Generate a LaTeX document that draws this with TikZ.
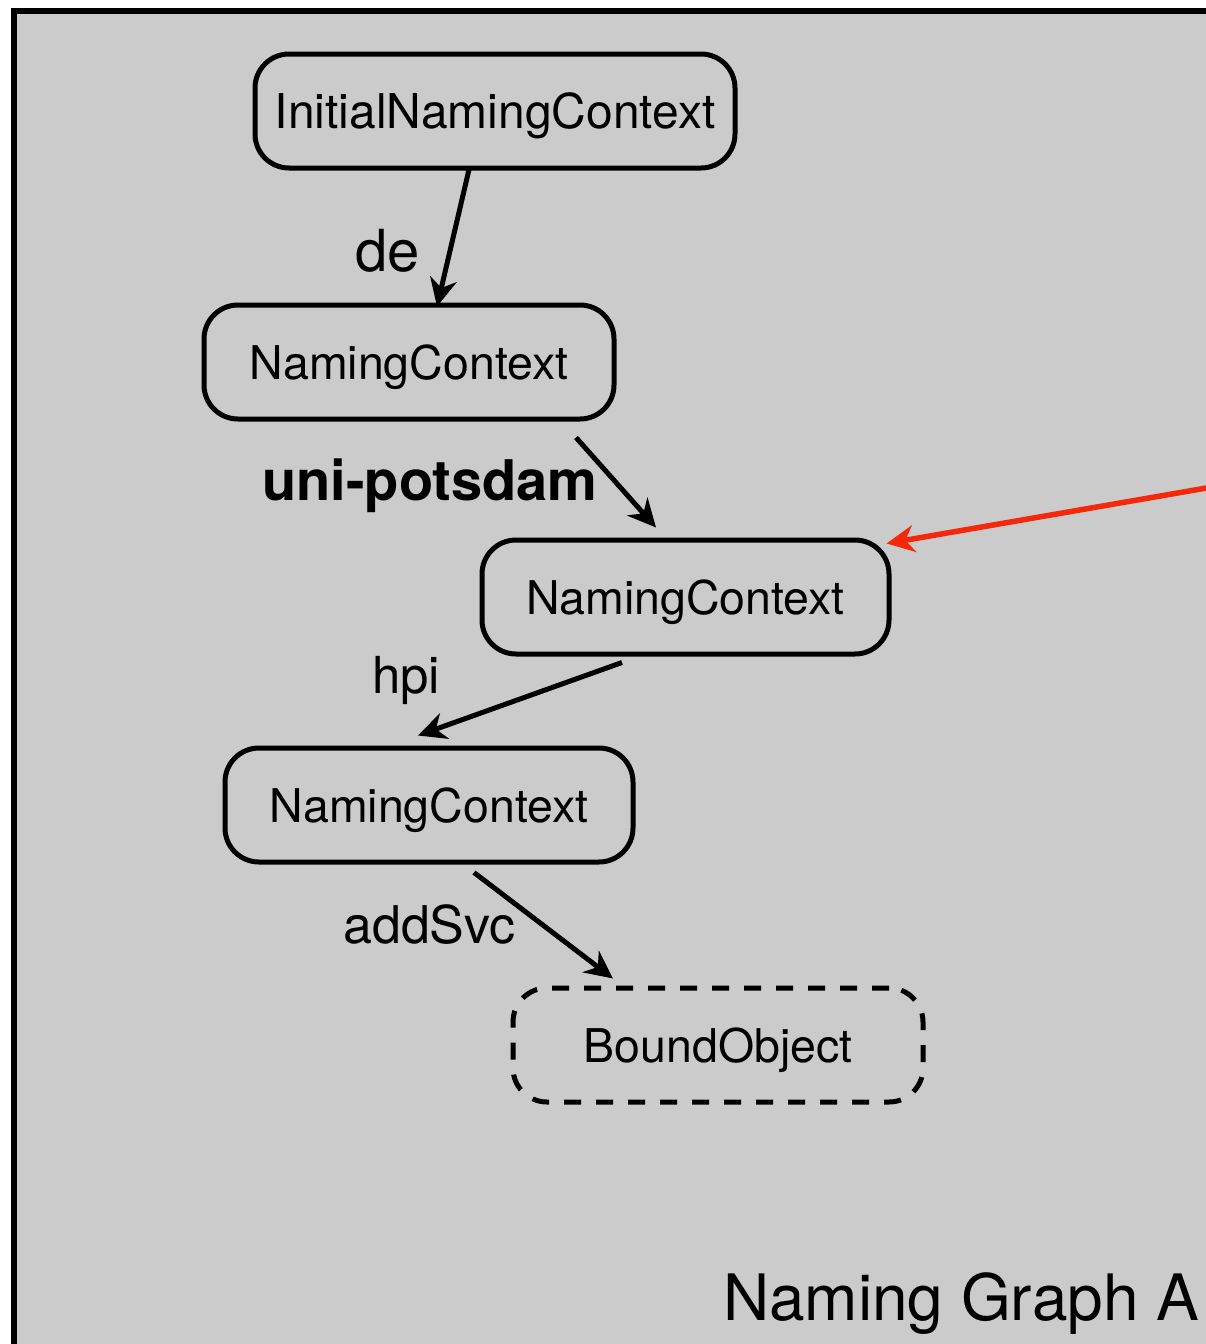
\documentclass[tikz,border=0pt]{standalone}
\usepackage{fontspec}
\setmainfont{TeX Gyre Heros}
\usetikzlibrary{arrows.meta}
\definecolor{bg}{RGB}{203,203,203}
\definecolor{redarr}{RGB}{244,40,10}
\tikzset{
  ctx/.style={draw=black, line width=5pt, rounded corners=34pt, minimum height=114pt, inner sep=0pt, text depth=0pt},
  bound/.style={ctx, dash pattern=on 17pt off 15pt},
  arr/.style={draw=black, line width=5pt, -{Stealth[length=28pt,width=27pt,inset=9pt]}},
  redline/.style={draw=redarr, line width=5.5pt, -{Stealth[length=28pt,width=27pt,inset=9pt]}},
  lbl/.style={inner sep=0pt, anchor=base west},
}
\begin{document}
\begin{tikzpicture}[x=1pt,y=-1pt]
\useasboundingbox (0,0) rectangle (1206,1344);
\clip (0,0) rectangle (1206,1344);
\fill[white] (0,0) rectangle (1206,1344);
\draw[line width=6pt, fill=bg] (13.5,10.5) rectangle (1240,1380);

\node[ctx, minimum width=480pt, font=\fontsize{48}{58}\selectfont] (n1) at (495,111) {InitialNamingContext};
\node[ctx, minimum width=410pt, font=\fontsize{46.5}{56}\selectfont] (n2) at (409,362) {NamingContext};
\node[ctx, minimum width=407pt, font=\fontsize{46.5}{56}\selectfont] (n3) at (685.5,597) {NamingContext};
\node[ctx, minimum width=408pt, font=\fontsize{46.5}{56}\selectfont] (n4) at (429,805) {NamingContext};
\node[bound, minimum width=410pt, font=\fontsize{46.5}{56}\selectfont] (n5) at (718,1045) {BoundObject};

\node[lbl, font=\fontsize{58}{68}\selectfont] (lde) at (355,271) {de};
\node[lbl, font=\fontsize{56}{66}\bfseries\selectfont] (lup) at (262,500) {uni-potsdam};
\node[lbl, font=\fontsize{51}{60}\selectfont] (lhpi) at (372,693) {hpi};
\node[lbl, font=\fontsize{52}{62}\selectfont] (ladd) at (343,943) {addSvc};
\node[lbl, font=\fontsize{64}{76}\selectfont] (title) at (723,1320) {Naming Graph A};

\draw[arr] ([xshift=-26pt,yshift=1pt]n1.south) -- ([xshift=28pt,yshift=-4pt]n2.north);
\draw[arr] ([xshift=167pt,yshift=-16pt]n2.south) -- ([xshift=-29.5pt,yshift=10pt]n3.north);
\draw[arr] ([xshift=-63.5pt,yshift=-6pt]n3.south) -- ([xshift=-11pt,yshift=10pt]n4.north);
\draw[arr] ([xshift=45pt,yshift=-8pt]n4.south) -- ([xshift=-105pt,yshift=7pt]n5.north);

\coordinate (redstart) at (1215,486.5);
\draw[redline] (redstart) -- ([xshift=-5pt,yshift=-6pt]n3.north east);
\end{tikzpicture}
\end{document}
